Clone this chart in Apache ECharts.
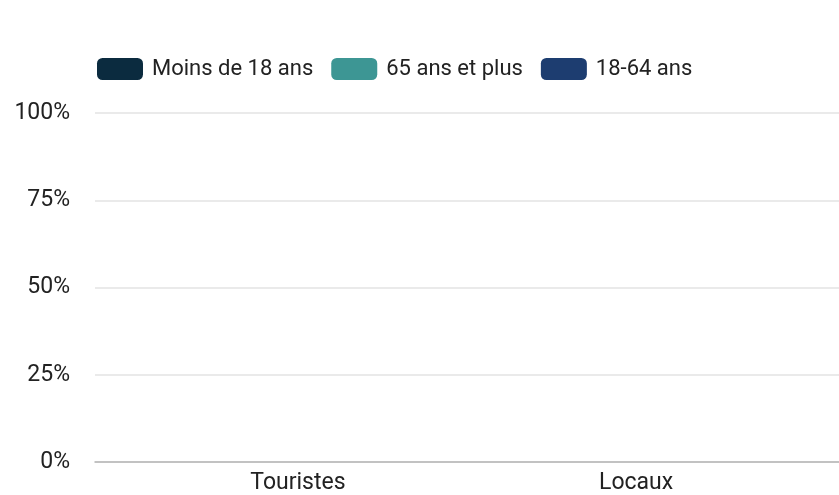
<!DOCTYPE html>
<html>
<head>
<meta charset="utf-8">
<script src="https://cdn.jsdelivr.net/npm/echarts@6/dist/echarts.min.js"></script>
<style>
  html, body { margin: 0; padding: 0; background: #fff; }
  #chart { width: 839px; height: 495px; }
</style>
</head>
<body>
<div id="chart"></div>
<script>
// catégories et séries (aucune barre visible dans l'image : valeurs à 0)
var categories = ['Touristes', 'Locaux'];
var seriesNames = ['Moins de 18 ans', '65 ans et plus', '18-64 ans'];
var seriesColors = ['#0b2b3f', '#3d9694', '#1d3d70'];
var moins18 = [0, 0];
var plus65 = [0, 0];
var adultes = [0, 0];
var yTicks = [0, 25, 50, 75, 100];

var values = [moins18, plus65, adultes];

function toPoints(arr) {
    var out = [];
    for (var i = 0; i < arr.length; i++) {
        out.push([i, arr[i]]);
    }
    return out;
}

var series = [];
for (var s = 0; s < seriesNames.length; s++) {
    series.push({
        name: seriesNames[s],
        type: 'bar',
        stack: 'total',
        barWidth: 120,
        itemStyle: { color: seriesColors[s] },
        data: toPoints(values[s])
    });
}

var option = {
    backgroundColor: '#fff',
    textStyle: { fontFamily: 'Roboto' },
    legend: {
        left: 92,
        top: 53,
        itemWidth: 46,
        itemHeight: 22,
        itemGap: 18,
        icon: 'roundRect',
        textStyle: { fontSize: 22, color: '#222', fontFamily: 'Roboto', padding: [0, 0, 0, 4] },
        data: seriesNames
    },
    grid: {
        left: 95,
        right: 0,
        top: 113,
        bottom: 28,
        containLabel: false
    },
    xAxis: {
        type: 'value',
        min: -0.6,
        max: 1.6,
        splitLine: { show: false },
        axisTick: { show: false },
        axisLine: { show: true, onZero: false, lineStyle: { color: '#b5b5b5', width: 1.5 } },
        axisLabel: {
            customValues: [0, 1],
            margin: 10,
            fontSize: 23,
            color: '#222',
            formatter: function (v) {
                return categories[Math.round(v)] || '';
            }
        }
    },
    yAxis: {
        type: 'value',
        min: 0,
        max: 100,
        interval: 25,
        axisLine: { show: false },
        axisTick: { show: false },
        axisLabel: {
            margin: 25,
            fontSize: 23,
            color: '#222',
            formatter: function (v) { return v + '%'; }
        },
        splitLine: {
            show: true,
            lineStyle: { color: '#e3e3e3', width: 1.5 }
        }
    },
    series: series
};

var chart = echarts.init(document.getElementById('chart'));
chart.setOption(option);
</script>
</body>
</html>
